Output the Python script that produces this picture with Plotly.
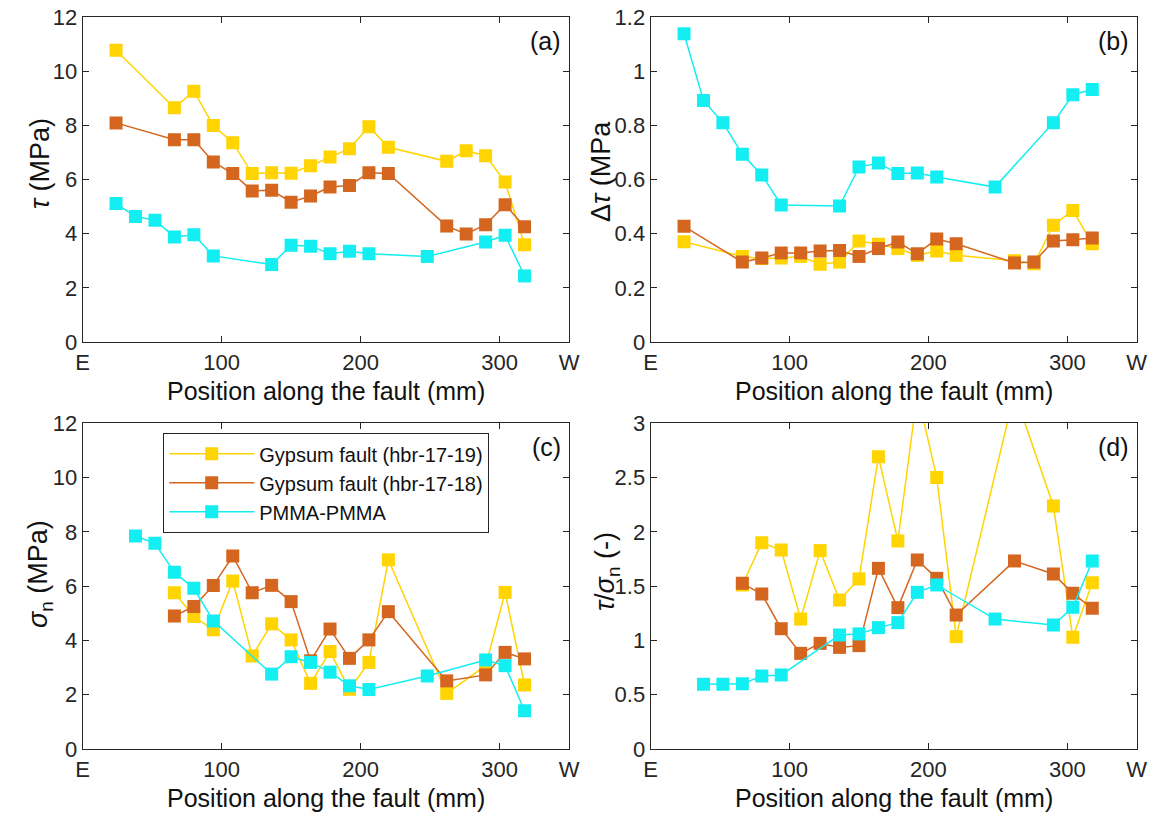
import plotly.graph_objects as go

# Measurement positions along the fault (mm)
pos_gypsum_ab = [24, 66, 80, 94, 108, 122, 136, 150, 164, 178, 192, 206, 220, 262, 276, 290, 304, 318]
pos_gypsum_cd = [66, 80, 94, 108, 122, 136, 150, 164, 178, 192, 206, 220, 262, 290, 304, 318]
pos_pmma_ab = [24, 38, 52, 66, 80, 94, 136, 150, 164, 178, 192, 206, 248, 290, 304, 318]
pos_pmma_cd = [38, 52, 66, 80, 94, 136, 150, 164, 178, 192, 206, 248, 290, 304, 318]

# (a) shear stress tau (MPa)
tau_h19 = [10.77, 8.65, 9.26, 7.99, 7.36, 6.22, 6.25, 6.23, 6.51, 6.83, 7.14, 7.95, 7.19, 6.67, 7.06, 6.88, 5.91, 3.59]
tau_h18 = [8.09, 7.47, 7.47, 6.65, 6.22, 5.58, 5.60, 5.16, 5.39, 5.72, 5.78, 6.25, 6.22, 4.28, 3.99, 4.33, 5.07, 4.26]
tau_pmma = [5.11, 4.63, 4.50, 3.88, 3.96, 3.18, 2.86, 3.57, 3.54, 3.26, 3.35, 3.26, 3.16, 3.69, 3.94, 2.44]

# (b) stress drop delta tau (MPa)
dtau_h19 = [0.370, 0.316, 0.308, 0.310, 0.316, 0.287, 0.295, 0.373, 0.361, 0.345, 0.320, 0.336, 0.320, 0.300, 0.289, 0.431, 0.486, 0.363]
dtau_h18 = [0.427, 0.295, 0.310, 0.329, 0.329, 0.336, 0.338, 0.316, 0.345, 0.369, 0.326, 0.380, 0.363, 0.292, 0.295, 0.373, 0.378, 0.384]
dtau_pmma = [1.138, 0.892, 0.810, 0.693, 0.617, 0.506, 0.502, 0.646, 0.661, 0.622, 0.624, 0.609, 0.572, 0.810, 0.913, 0.932]

# (c) normal stress sigma_n (MPa)
sn_h19 = [5.76, 4.88, 4.39, 6.19, 3.43, 4.61, 4.02, 2.42, 3.59, 2.20, 3.19, 6.97, 2.05, 3.07, 5.77, 2.36]
sn_h18 = [4.90, 5.25, 6.02, 7.11, 5.76, 6.03, 5.43, 3.25, 4.42, 3.34, 4.02, 5.06, 2.51, 2.73, 3.56, 3.32]
sn_pmma = [7.85, 7.58, 6.51, 5.92, 4.72, 2.76, 3.40, 3.19, 2.83, 2.33, 2.19, 2.69, 3.28, 3.07, 1.41]

# (d) stress ratio tau / sigma_n (-)
ratio_h19 = [1.51, 1.90, 1.833, 1.197, 1.827, 1.372, 1.566, 2.693, 1.916, 3.28, 2.50, 1.035, 3.28, 2.238, 1.029, 1.532]
ratio_h18 = [1.526, 1.428, 1.108, 0.881, 0.973, 0.936, 0.952, 1.664, 1.302, 1.741, 1.572, 1.234, 1.732, 1.612, 1.434, 1.296]
ratio_pmma = [0.596, 0.596, 0.600, 0.672, 0.682, 1.050, 1.060, 1.118, 1.164, 1.443, 1.511, 1.197, 1.142, 1.305, 1.732]

series_names = ["Gypsum fault (hbr-17-19)", "Gypsum fault (hbr-17-18)", "PMMA-PMMA"]
colors = ["#FFD400", "#D4661F", "#12EEF2"]

x_tickvals = [0, 100, 200, 300, 350]
x_ticktext = ["E", "100", "200", "300", "W"]

W, H = 1151, 813
FONT = "Liberation Sans, Arial, Helvetica, sans-serif"
AXC = "#262626"
TXT = "#111111"

# panel boxes in pixels: (left, right, top, bottom)
boxes = {
    "a": (82.7, 569.0, 17.0, 342.0),
    "b": (650.7, 1136.7, 17.0, 342.0),
    "c": (82.7, 569.0, 423.3, 749.0),
    "d": (650.7, 1136.7, 423.3, 749.0),
}

panels = [
    ("a", [0, 12], [0, 2, 4, 6, 8, 10, 12], None,
     [(pos_gypsum_ab, tau_h19), (pos_gypsum_ab, tau_h18), (pos_pmma_ab, tau_pmma)]),
    ("b", [0, 1.2], [0, 0.2, 0.4, 0.6, 0.8, 1.0, 1.2], ["0", "0.2", "0.4", "0.6", "0.8", "1", "1.2"],
     [(pos_gypsum_ab, dtau_h19), (pos_gypsum_ab, dtau_h18), (pos_pmma_ab, dtau_pmma)]),
    ("c", [0, 12], [0, 2, 4, 6, 8, 10, 12], None,
     [(pos_gypsum_cd, sn_h19), (pos_gypsum_cd, sn_h18), (pos_pmma_cd, sn_pmma)]),
    ("d", [0, 3], [0, 0.5, 1, 1.5, 2, 2.5, 3], ["0", "0.5", "1", "1.5", "2", "2.5", "3"],
     [(pos_gypsum_cd, ratio_h19), (pos_gypsum_cd, ratio_h18), (pos_pmma_cd, ratio_pmma)]),
]

fig = go.Figure()
layout = dict(
    template="none",
    width=W, height=H,
    margin=dict(l=0, r=0, t=0, b=0, pad=0),
    paper_bgcolor="white", plot_bgcolor="white",
    font=dict(family=FONT, size=22, color=AXC),
    showlegend=True,
)
annotations = []

for i, (key, yr, yt, ytt, data) in enumerate(panels):
    l, r, t, b = boxes[key]
    xs = "" if i == 0 else str(i + 1)
    xdom = [l / W, r / W]
    ydom = [1 - b / H, 1 - t / H]
    common = dict(
        showline=True, linecolor=AXC, linewidth=1.3, mirror="ticks",
        ticks="inside", ticklen=6, tickwidth=1.2, tickcolor=AXC,
        showgrid=False, zeroline=False, automargin=False,
        tickfont=dict(family=FONT, size=22, color=AXC),
    )
    layout["xaxis" + xs] = dict(
        domain=xdom, range=[0, 350], anchor="y" + xs,
        tickvals=x_tickvals, ticktext=x_ticktext, **common,
    )
    yax = dict(domain=ydom, range=yr, anchor="x" + xs, tickvals=yt, **common)
    if ytt is not None:
        yax["ticktext"] = ytt
    layout["yaxis" + xs] = yax

    for j, (xv, yv) in enumerate(data):
        fig.add_trace(go.Scatter(
            x=xv, y=yv, mode="lines+markers",
            name=series_names[j], legendgroup=series_names[j],
            showlegend=(key == "c"),
            line=dict(color=colors[j], width=1.5),
            marker=dict(symbol="square", size=13, color=colors[j],
                        line=dict(width=0)),
            xaxis="x" + xs, yaxis="y" + xs,
        ))

    # panel tag
    annotations.append(dict(
        text="(" + key + ")", x=(r - 6) / W, y=1 - (t + 24) / H,
        xref="paper", yref="paper", xanchor="right", yanchor="middle",
        showarrow=False, font=dict(family=FONT, size=25, color=TXT),
    ))
    # x-axis title
    annotations.append(dict(
        text="Position along the fault (mm)", x=(l + r) / 2 / W, y=1 - (b + 49) / H,
        xref="paper", yref="paper", xanchor="center", yanchor="middle",
        showarrow=False, font=dict(family=FONT, size=25, color=TXT),
    ))

# y-axis titles
ytitles = [
    ("<i>τ</i> (MPa)", 40, 164),
    ("Δ<i>τ</i> (MPa", 601, 171),
    ("<i>σ</i><sub>n</sub> (MPa)", 40, 574),
    ("<i>τ</i>/<i>σ</i><sub>n</sub> (-)", 607, 572),
]
for txt, px, py in ytitles:
    annotations.append(dict(
        text=txt, x=px / W, y=1 - py / H, xref="paper", yref="paper",
        xanchor="center", yanchor="middle", textangle=-90, showarrow=False,
        font=dict(family=FONT, size=27, color=TXT),
    ))

layout["annotations"] = annotations
layout["legend"] = dict(
    x=163 / W, y=1 - 433 / H, xanchor="left", yanchor="top",
    bgcolor="white", bordercolor=AXC, borderwidth=1.2,
    font=dict(family=FONT, size=20, color=TXT),
    tracegroupgap=0, itemwidth=85,
)
fig.update_layout(**layout)
fig.write_html("out.html")
